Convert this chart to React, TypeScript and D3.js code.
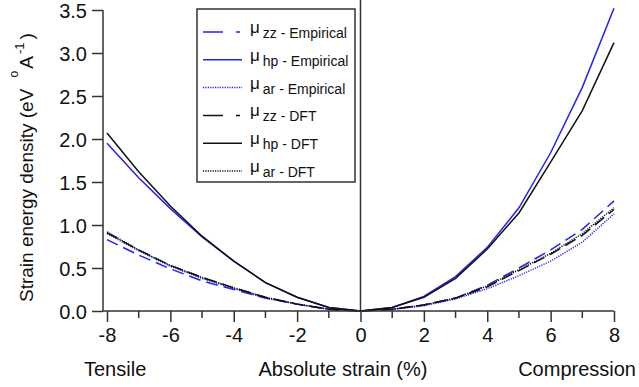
import { useEffect, useRef } from 'react'
import * as d3 from 'd3'

const strain = [-8, -7, -6, -5, -4, -3, -2, -1, 0, 1, 2, 3, 4, 5, 6, 7, 8]

const zzEmpirical = [0.83, 0.65, 0.49, 0.35, 0.25, 0.15, 0.08, 0.02, 0, 0.02, 0.07, 0.15, 0.3, 0.5, 0.71, 0.95, 1.28]
const hpEmpirical = [1.95, 1.55, 1.19, 0.86, 0.58, 0.33, 0.16, 0.04, 0, 0.04, 0.17, 0.4, 0.74, 1.2, 1.84, 2.6, 3.52]
const arEmpirical = [0.9, 0.7, 0.52, 0.38, 0.26, 0.15, 0.08, 0.02, 0, 0.02, 0.06, 0.14, 0.26, 0.41, 0.58, 0.8, 1.13]
const zzDFT = [0.91, 0.71, 0.53, 0.39, 0.27, 0.16, 0.08, 0.02, 0, 0.02, 0.07, 0.15, 0.28, 0.47, 0.66, 0.88, 1.18]
const hpDFT = [2.07, 1.62, 1.22, 0.87, 0.58, 0.33, 0.16, 0.04, 0, 0.04, 0.16, 0.38, 0.72, 1.14, 1.73, 2.33, 3.12]
const arDFT = [0.92, 0.71, 0.53, 0.39, 0.27, 0.16, 0.08, 0.02, 0, 0.02, 0.07, 0.15, 0.29, 0.48, 0.67, 0.9, 1.2]

const yTicks = [0, 0.5, 1, 1.5, 2, 2.5, 3, 3.5]
const xTicks = [-8, -6, -4, -2, 0, 2, 4, 6, 8]

const BLUE = '#2323ee'
const BLACK = '#111'

const series = [
  { sub: 'zz', src: 'Empirical', values: zzEmpirical, color: BLUE, dash: '12,6', legendDash: '20,13,4,20' },
  { sub: 'hp', src: 'Empirical', values: hpEmpirical, color: BLUE, dash: null, legendDash: null },
  { sub: 'ar', src: 'Empirical', values: arEmpirical, color: BLUE, dash: '1.2,1.2', legendDash: '1.2,1.2' },
  { sub: 'zz', src: 'DFT', values: zzDFT, color: BLACK, dash: '12,6', legendDash: '20,13,4,20' },
  { sub: 'hp', src: 'DFT', values: hpDFT, color: BLACK, dash: null, legendDash: null },
  { sub: 'ar', src: 'DFT', values: arDFT, color: BLACK, dash: '1.2,1.2', legendDash: '1.2,1.2' },
]

export default function App() {
  const svgRef = useRef<SVGSVGElement>(null)

  useEffect(() => {
    const W = 639
    const H = 387
    const font = '"Liberation Sans", Arial, sans-serif'
    const fs = 20

    const x = d3.scaleLinear().domain([-8, 8]).range([107, 614])
    const y = d3.scaleLinear().domain([0, 3.5]).range([311, 10])
    const axisX = 103

    const svg = d3.select(svgRef.current)
    svg.selectAll('*').remove()
    svg.attr('width', W).attr('height', H).style('font-family', font)

    // zero line
    svg.append('line')
      .attr('x1', x(0)).attr('x2', x(0)).attr('y1', 0).attr('y2', y(0))
      .attr('stroke', '#333').attr('stroke-width', 1.5)

    const line = d3.line<number>()
      .x((_, i) => x(strain[i]))
      .y((d) => y(d))

    series.forEach((s) => {
      svg.append('path')
        .datum(s.values)
        .attr('fill', 'none')
        .attr('stroke', s.color)
        .attr('stroke-width', 1.5)
        .attr('stroke-dasharray', s.dash)
        .attr('d', line)
    })

    // y axis
    const yAxis = svg.append('g')
      .attr('transform', `translate(${axisX},0)`)
      .call(d3.axisLeft(y).tickValues(yTicks).tickSize(11).tickPadding(5).tickFormat(d3.format('.1f')))
    yAxis.select('.domain').attr('stroke', '#333').attr('stroke-width', 1.5).attr('d', `M0,${y(3.5)}V${y(0)}`)
    yAxis.selectAll('.tick line').attr('stroke', '#333').attr('stroke-width', 1.5)
    yAxis.selectAll('text').attr('fill', '#111').attr('font-size', fs).attr('font-family', font).attr('dy', '0.36em')

    // x axis (plain hyphen for negatives)
    const xAxis = svg.append('g')
      .attr('transform', `translate(0,${y(0)})`)
      .call(d3.axisBottom(x).tickValues(xTicks).tickSize(11).tickPadding(6).tickFormat((d) => String(d)))
    xAxis.select('.domain').attr('stroke', '#333').attr('stroke-width', 1.5).attr('d', `M${axisX},0H${x(8)}`)
    xAxis.selectAll('.tick line').attr('stroke', '#333').attr('stroke-width', 1.5)
    xAxis.selectAll('text').attr('fill', '#111').attr('font-size', fs).attr('font-family', font)

    const minor = d3.range(-7, 8, 2)
    svg.append('g').selectAll('line').data(minor).join('line')
      .attr('x1', (d) => x(d)).attr('x2', (d) => x(d))
      .attr('y1', y(0)).attr('y2', y(0) + 7)
      .attr('stroke', '#333').attr('stroke-width', 1.5)

    // axis titles
    const titleY = 376
    svg.append('text').attr('x', 84).attr('y', titleY).attr('font-size', fs).attr('fill', '#111').text('Tensile')
    svg.append('text').attr('x', 343).attr('y', titleY).attr('text-anchor', 'middle').attr('font-size', fs).attr('fill', '#111').text('Absolute strain (%)')
    svg.append('text').attr('x', 636).attr('y', titleY).attr('text-anchor', 'end').attr('font-size', fs).attr('fill', '#111').text('Compression')

    // y title, Igor-style Å with the ring floating above
    const yt = svg.append('text')
      .attr('transform', 'translate(33,302) rotate(-90)')
      .attr('font-size', 19).attr('fill', '#111')
    yt.append('tspan').text('Strain energy density  (eV ')
    yt.append('tspan').attr('font-size', 12).attr('dx', 6).attr('dy', -15).text('o')
    yt.append('tspan').attr('dx', 2).attr('dy', 15).text('A')
    yt.append('tspan').attr('font-size', 13).attr('dx', 2).attr('dy', -9).text('-1')
    yt.append('tspan').attr('dx', 3).attr('dy', 9).text(')')

    // legend
    const lg = svg.append('g')
    lg.append('rect')
      .attr('x', 197).attr('y', 9).attr('width', 158).attr('height', 173)
      .attr('fill', 'white').attr('stroke', '#333').attr('stroke-width', 1.5)
    series.forEach((s, i) => {
      const cy = 32 + i * 27.8
      lg.append('line')
        .attr('x1', 203).attr('x2', 242).attr('y1', cy).attr('y2', cy)
        .attr('stroke', s.color).attr('stroke-width', 1.5)
        .attr('stroke-dasharray', s.legendDash)
      const t = lg.append('text').attr('x', 250).attr('y', cy + 1).attr('fill', '#111')
      t.append('tspan').attr('font-size', 17).text('μ')
      t.append('tspan').attr('font-size', 14).attr('dx', 3).attr('dy', 5).text(`${s.sub} - ${s.src}`)
    })
  }, [])

  return (
    <div style={{ position: 'absolute', left: 0, top: 0 }}>
      <svg ref={svgRef} style={{ display: 'block' }} />
    </div>
  )
}
